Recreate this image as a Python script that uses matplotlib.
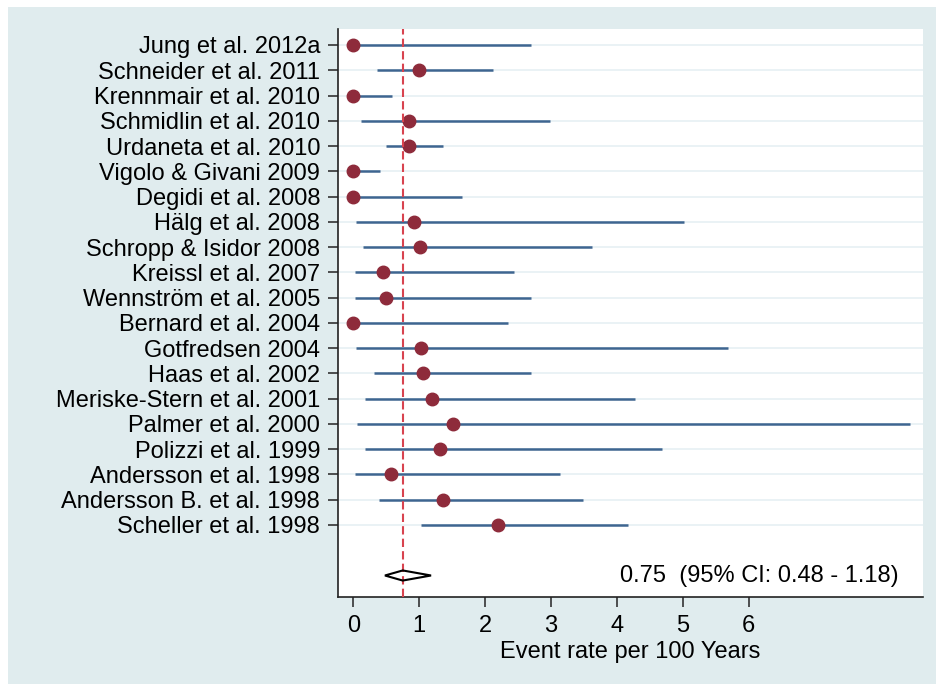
import matplotlib

matplotlib.use("Agg")
import matplotlib.pyplot as plt
from matplotlib.patches import Polygon, Rectangle
import numpy as np

plt.rcParams["font.family"] = ["Liberation Sans", "DejaVu Sans"]

# study rows, top to bottom
studies = [
    "Jung et al. 2012a", "Schneider et al. 2011", "Krennmair et al. 2010",
    "Schmidlin et al. 2010", "Urdaneta et al. 2010", "Vigolo & Givani 2009",
    "Degidi et al. 2008", "Hälg et al. 2008", "Schropp & Isidor 2008",
    "Kreissl et al. 2007", "Wennström et al. 2005", "Bernard et al. 2004",
    "Gotfredsen 2004", "Haas et al. 2002", "Meriske-Stern et al. 2001",
    "Palmer et al. 2000", "Polizzi et al. 1999", "Andersson et al. 1998",
    "Andersson B. et al. 1998", "Scheller et al. 1998",
]
rate = [0.0, 0.99, 0.0, 0.84, 0.85, 0.0, 0.0, 0.92, 1.01, 0.45,
        0.50, 0.0, 1.03, 1.06, 1.19, 1.52, 1.31, 0.57, 1.36, 2.20]
ci_low = [0.0, 0.36, 0.0, 0.11, 0.50, 0.0, 0.0, 0.04, 0.14, 0.03,
          0.03, 0.0, 0.04, 0.31, 0.17, 0.06, 0.18, 0.03, 0.39, 1.02]
ci_high = [2.70, 2.12, 0.585, 2.99, 1.36, 0.41, 1.65, 5.02, 3.62, 2.44,
           2.69, 2.35, 5.69, 2.69, 4.28, 8.44, 4.69, 3.13, 3.48, 4.17]

pooled = 0.75
pooled_low = 0.48
pooled_high = 1.18
pooled_label = "0.75  (95% CI: 0.48 - 1.18)"

x_ticks = [0, 1, 2, 3, 4, 5, 6]
x_label = "Event rate per 100 Years"

panel_bg = "#e0ecee"
line_col = "#3e6590"
dot_col = "#8e2b3b"
ref_col = "#d8434f"
grid_col = "#e6f0f3"
fs = 17

fig = plt.figure(figsize=(9.36, 6.84), dpi=100)
fig.patches.append(Rectangle((8 / 936, 0), 1, 1 - 7 / 684,
                             transform=fig.transFigure, facecolor=panel_bg,
                             edgecolor="none", zorder=-10))
ax = fig.add_axes([0.3614, 0.1276, 0.6244, 0.83])
ax.set_facecolor("white")

rows = np.arange(1, len(studies) + 1)
pooled_row = len(studies) + 2

for r in rows:
    ax.axhline(r, color=grid_col, linewidth=1.2, zorder=0)

ax.hlines(rows, ci_low, ci_high, color=line_col, linewidth=1.8, zorder=2)
ax.plot(rate, rows, "o", color=dot_col, markersize=9, zorder=3)

ax.axvline(pooled, color=ref_col, linestyle=(0, (4, 2)), linewidth=1.5, zorder=4)

diamond = Polygon([(pooled_low, pooled_row), (pooled, pooled_row - 0.2),
                   (pooled_high, pooled_row), (pooled, pooled_row + 0.2)],
                  closed=True, facecolor="none", edgecolor="black",
                  linewidth=1.5, zorder=5)
ax.add_patch(diamond)
ax.text(8.27, pooled_row, pooled_label, ha="right", va="center", fontsize=fs)

ax.set_xlim(-0.228, 8.64)
ax.set_ylim(22.84, 0.367)
ax.set_xticks(x_ticks)
ax.set_yticks(rows)
ax.set_yticklabels(studies)
ax.set_xlabel(x_label, fontsize=fs, labelpad=3)

ax.tick_params(axis="both", labelsize=fs, length=7, width=1.2, color="#333333",
               direction="out")
ax.tick_params(axis="x", pad=6)
ax.tick_params(axis="y", pad=6)
for side in ["top", "right"]:
    ax.spines[side].set_visible(False)
for side in ["left", "bottom"]:
    ax.spines[side].set_linewidth(1.2)
    ax.spines[side].set_color("#222222")

fig.savefig("out.png")
